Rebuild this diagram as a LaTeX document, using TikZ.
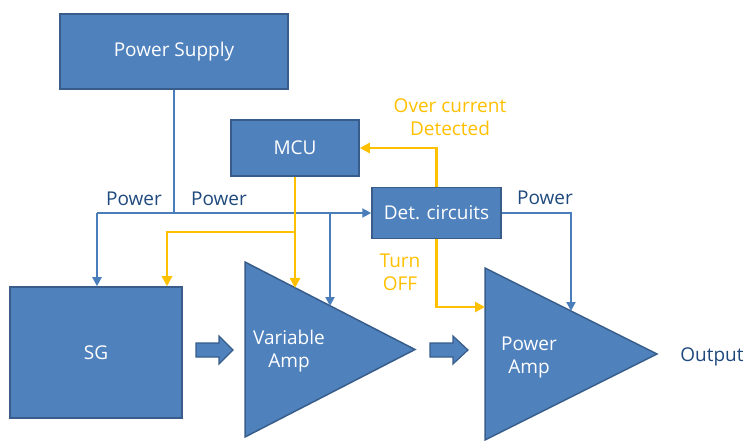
\documentclass[tikz,border=0pt]{standalone}
\usepackage{fontspec}
\setmainfont{Open Sans}
\usetikzlibrary{arrows.meta}
\definecolor{boxfill}{HTML}{4F81BD}
\definecolor{boxedge}{HTML}{385D8A}
\definecolor{wire}{HTML}{4A7EBB}
\definecolor{ctrl}{HTML}{FFC000}
\definecolor{lbl}{HTML}{1F497D}
\begin{document}
\begin{tikzpicture}[x=1pt,y=-1pt,
  blk/.style={draw=boxedge, fill=boxfill, line width=1.5pt, text=white,
    font=\fontsize{19}{23}\selectfont, inner sep=0pt},
  tri/.style={draw=boxedge, fill=boxfill, line width=1.5pt, line join=miter},
  pw/.style={draw=wire, line width=2pt, -{Triangle[length=9pt,width=9pt]}},
  pwl/.style={draw=wire, line width=2pt},
  ct/.style={draw=ctrl, line width=2.5pt, -{Triangle[length=10pt,width=10pt]}},
  ctl/.style={draw=ctrl, line width=2.5pt},
  lab/.style={text=lbl, font=\fontsize{19}{23}\selectfont, inner sep=0pt},
  ylab/.style={text=ctrl, font=\fontsize{19}{23}\selectfont, inner sep=0pt, align=center},
  wlab/.style={text=white, font=\fontsize{19}{23}\selectfont, inner sep=0pt, align=center}
]
\useasboundingbox (0,0) rectangle (748,441);

% boxes
\node[blk, minimum width=228pt, minimum height=75pt] (ps) at (174,51.5) {Power Supply};
\node[blk, minimum width=128pt, minimum height=56pt] (mcu) at (295,148) {MCU};
\node[blk, minimum width=129pt, minimum height=51pt] (det) at (436.5,213) {Det. circuits};
\node[blk, minimum width=172pt, minimum height=131pt] (sg) at (96,352.5) {SG};

% triangles
\coordinate (vaA) at (245,262);
\coordinate (vaB) at (245,437);
\coordinate (vaC) at (415,349.5);
\coordinate (paA) at (485,268);
\coordinate (paB) at (485,440);
\coordinate (paC) at (657,354);
\draw[tri] (vaA) -- (vaC) -- (vaB) -- cycle;
\draw[tri] (paA) -- (paC) -- (paB) -- cycle;
\node[wlab] (vat) at (289,351) {Variable\\Amp};
\node[wlab] (pat) at (529,357) {Power\\Amp};

% block arrows
\draw[tri, line width=1.2pt] (196,343) -- (219,343) -- (219,336) -- (233,350) -- (219,364) -- (219,357) -- (196,357) -- cycle;
\draw[tri, line width=1.2pt] (430,343) -- (453,343) -- (453,336) -- (468,350) -- (453,364) -- (453,357) -- (430,357) -- cycle;

% junctions and targets
\coordinate (j0) at (174,213);
\coordinate (jL) at (97,213);
\coordinate (jR) at (330,213);
\coordinate (vaP) at (330,306);
\coordinate (yj) at (295,232);
\coordinate (yL) at (167,232);
\coordinate (vaY) at (295,288);
\coordinate (paY) at (485,307);
\coordinate (paP) at (571,311);
\coordinate (dR) at (571,213);

% power wiring
\draw[pwl] (ps.south) -- (j0);
\draw[pw] (jL) -- (det.west);
\draw[pw] (jL) -- (jL |- sg.north);
\draw[pw] (jR) -- (vaP);
\draw[pw] (det.east) -- (dR) -- (paP);

% control wiring
\draw[ct] (mcu.south) -- (vaY);
\draw[ct] (yj) -- (yL) -- (yL |- sg.north);
\draw[ct] (det.north) |- (mcu.east);
\draw[ct] (det.south) |- (paY);

% labels
\node[lab] (pw1) at (134,199) {Power};
\node[lab] (pw2) at (219,199) {Power};
\node[lab] (pw3) at (545,198) {Power};
\node[lab] (out) at (712,357) {Output};
\node[ylab] (oc) at (450,117.5) {Over current\\Detected};
\node[ylab] (to) at (400,272) {Turn\\OFF};
\end{tikzpicture}
\end{document}
